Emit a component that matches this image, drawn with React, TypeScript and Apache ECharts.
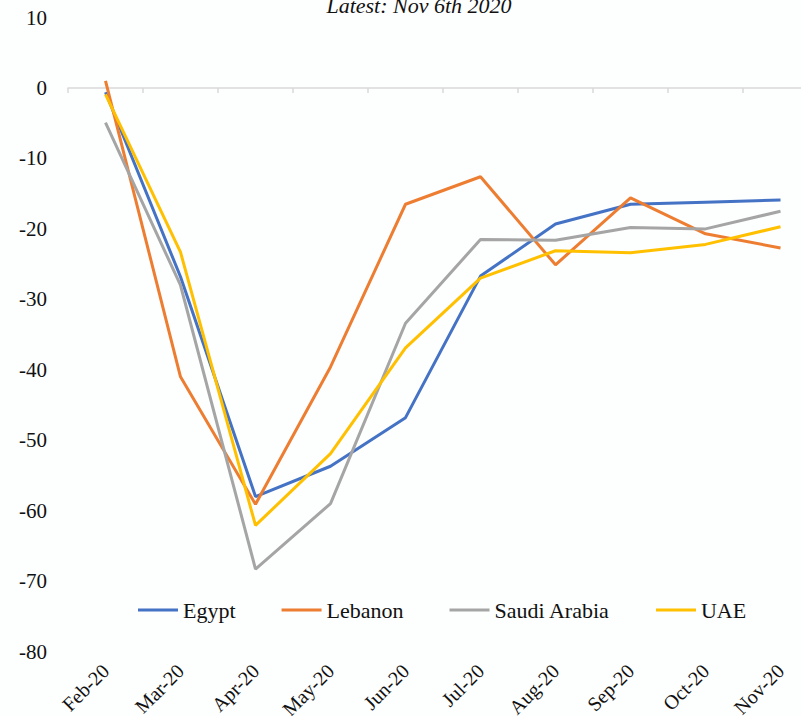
import React, { useEffect, useRef } from "react";
import * as echarts from "echarts";

const categories = ["Feb-20", "Mar-20", "Apr-20", "May-20", "Jun-20", "Jul-20", "Aug-20", "Sep-20", "Oct-20", "Nov-20"];
const egypt = [-0.6, -26.8, -58.0, -53.7, -46.8, -26.7, -19.3, -16.5, -16.2, -15.9];
const lebanon = [1.0, -41.0, -59.1, -39.6, -16.5, -12.6, -25.1, -15.6, -20.7, -22.7];
const saudiArabia = [-4.9, -28.0, -68.3, -59.0, -33.4, -21.5, -21.6, -19.8, -20.0, -17.5];
const uae = [-0.9, -23.3, -62.1, -51.9, -36.9, -27.0, -23.1, -23.4, -22.2, -19.7];
const titleText = "Latest: Nov 6th 2020";

const FONT = '"Liberation Serif", "Times New Roman", serif';

export default function App() {
  const ref = useRef<HTMLDivElement>(null);
  useEffect(() => {
    if (!ref.current) return;
    const chart = echarts.init(ref.current, undefined, { renderer: "svg" });
    const mk = (name: string, data: number[], color: string) => ({
      name,
      type: "line",
      data,
      xAxisIndex: 0,
      yAxisIndex: 0,
      symbol: "none",
      smooth: false,
      lineStyle: { color, width: 3 },
      itemStyle: { color },
    });
    chart.setOption({
      animation: false,
      backgroundColor: "#fdfefe",
      textStyle: { fontFamily: FONT },
      graphic: [
        {
          type: "text",
          x: 419,
          y: 5.5,
          style: {
            text: titleText,
            font: `italic 22px ${FONT}`,
            fill: "#111",
            textAlign: "center",
            textVerticalAlign: "middle",
          },
        },
      ],
      legend: {
        left: 133,
        top: 594,
        itemGap: 46,
        itemWidth: 40,
        itemHeight: 3,
        icon: "rect",
        textStyle: { fontFamily: FONT, fontSize: 22, color: "#111" },
        data: ["Egypt", "Lebanon", "Saudi Arabia", "UAE"],
      },
      grid: {
        left: 68,
        right: -17,
        top: 17.6,
        bottom: 64.5,
        containLabel: false,
        outerBoundsMode: "none",
      },
      xAxis: [
        {
          type: "category",
          data: categories,
          position: "bottom",
          boundaryGap: true,
          axisLine: { show: false, onZero: false },
          axisTick: { show: false },
          axisLabel: {
            rotate: 45,
            margin: 16,
            fontFamily: FONT,
            fontSize: 20,
            color: "#111",
            interval: 0,
          },
          splitLine: { show: false },
        },
        {
          type: "category",
          data: categories,
          position: "bottom",
          boundaryGap: true,
          axisLine: { show: true, onZero: true, lineStyle: { color: "#d9d9d9", width: 1.5 } },
          axisTick: { show: true, inside: false, length: 5, lineStyle: { color: "#d9d9d9", width: 1.5 } },
          axisLabel: { show: false },
          splitLine: { show: false },
        },
      ],
      yAxis: {
        type: "value",
        min: -80,
        max: 10,
        interval: 10,
        axisLine: { show: false },
        axisTick: { show: false },
        splitLine: { show: false },
        axisLabel: { margin: 21, fontFamily: FONT, fontSize: 21, color: "#111" },
      },
      series: [
        mk("Egypt", egypt, "#4472C4"),
        mk("Lebanon", lebanon, "#ED7D31"),
        mk("Saudi Arabia", saudiArabia, "#A5A5A5"),
        mk("UAE", uae, "#FFC000"),
      ],
    });
    return () => chart.dispose();
  }, []);
  return (
    <div
      ref={ref}
      style={{ position: "fixed", left: 0, top: 0, width: 801, height: 716 }}
    />
  );
}
